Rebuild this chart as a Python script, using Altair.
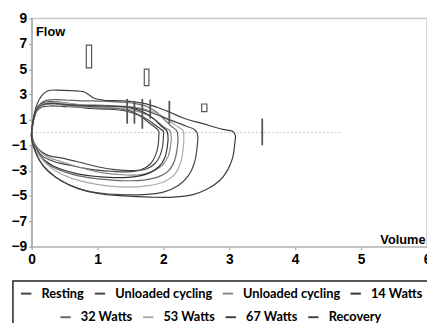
import altair as alt
import pandas as pd

# ---- loop data (volume, flow) ----
resting_v = [0, 0.03, 0.08, 0.15, 0.3, 0.5, 0.7, 0.9, 1.1, 1.3, 1.5, 1.7, 1.85, 1.95, 2.0,
             2.0, 1.99, 1.95, 1.88, 1.75, 1.55, 1.3, 1.0, 0.7, 0.45, 0.25, 0.1, 0.03, 0]
resting_f = [0, 1.0, 1.7, 2.0, 2.1, 2.05, 2.0, 1.9, 1.85, 1.8, 1.6, 1.2, 0.7, 0.3, 0.1,
             -0.3, -1.0, -1.8, -2.4, -2.85, -3.0, -2.95, -2.7, -2.3, -2.0, -1.8, -1.3, -0.7, 0]

unl1_v = [0, 0.03, 0.08, 0.15, 0.3, 0.5, 0.7, 0.9, 1.1, 1.3, 1.5, 1.65, 1.8, 1.9, 1.93,
          1.93, 1.92, 1.88, 1.8, 1.65, 1.45, 1.2, 0.9, 0.6, 0.35, 0.15, 0.05, 0, 0]
unl1_f = [0, 1.1, 1.8, 2.2, 2.3, 2.2, 2.1, 2.05, 1.95, 1.9, 1.7, 1.3, 0.7, 0.3, 0.1,
          -0.3, -1.0, -1.8, -2.5, -2.95, -3.1, -3.05, -2.9, -2.6, -2.3, -1.8, -1.0, -0.3, 0]

unl2_v = [0, 0.04, 0.1, 0.2, 0.35, 0.55, 0.75, 0.95, 1.15, 1.35, 1.55, 1.75, 1.9, 2.02, 2.1,
          2.12, 2.11, 2.07, 1.98, 1.82, 1.6, 1.3, 1.0, 0.7, 0.45, 0.2, 0.06, 0, 0]
unl2_f = [0, 1.2, 1.9, 2.2, 2.25, 2.1, 2.0, 2.0, 1.95, 1.9, 1.75, 1.4, 0.9, 0.4, 0.15,
          -0.3, -1.0, -1.9, -2.6, -3.1, -3.35, -3.3, -3.1, -2.7, -2.3, -1.8, -1.0, -0.3, 0]

w14_v = [0, 0.03, 0.08, 0.15, 0.3, 0.5, 0.7, 0.9, 1.1, 1.3, 1.5, 1.7, 1.85, 1.97, 2.05,
         2.07, 2.06, 2.02, 1.93, 1.78, 1.55, 1.25, 0.95, 0.65, 0.4, 0.2, 0.06, 0, 0]
w14_f = [0, 1.1, 1.9, 2.3, 2.45, 2.35, 2.2, 2.15, 2.1, 2.05, 1.95, 1.6, 1.1, 0.5, 0.15,
         -0.3, -1.1, -2.0, -2.7, -3.2, -3.5, -3.55, -3.45, -3.2, -2.8, -2.2, -1.3, -0.4, 0]

w32_v = [0, 0.04, 0.1, 0.2, 0.35, 0.55, 0.75, 0.95, 1.15, 1.35, 1.55, 1.75, 1.9, 2.02, 2.12, 2.2,
         2.22, 2.21, 2.17, 2.08, 1.92, 1.7, 1.4, 1.1, 0.8, 0.5, 0.25, 0.08, 0, 0]
w32_f = [0, 1.3, 2.1, 2.5, 2.6, 2.55, 2.5, 2.5, 2.45, 2.4, 2.3, 2.05, 1.6, 1.0, 0.5, 0.15,
         -0.3, -1.2, -2.2, -3.0, -3.5, -3.75, -3.8, -3.7, -3.5, -3.1, -2.5, -1.5, -0.4, 0]

w53_v = [0, 0.04, 0.1, 0.2, 0.35, 0.55, 0.75, 0.95, 1.15, 1.35, 1.55, 1.75, 1.95, 2.1, 2.22, 2.3,
         2.31, 2.3, 2.26, 2.17, 2.0, 1.75, 1.45, 1.15, 0.85, 0.55, 0.3, 0.1, 0, 0]
w53_f = [0, 1.2, 2.0, 2.3, 2.4, 2.3, 2.2, 2.2, 2.15, 2.1, 2.0, 1.8, 1.4, 0.9, 0.45, 0.15,
         -0.3, -1.3, -2.4, -3.3, -3.9, -4.2, -4.3, -4.2, -3.95, -3.5, -2.8, -1.7, -0.5, 0]

w67_v = [0, 0.03, 0.08, 0.15, 0.25, 0.4, 0.6, 0.8, 0.95, 1.1, 1.4, 1.7, 1.9, 2.1, 2.3, 2.6, 2.9, 3.05,
         3.09, 3.08, 3.05, 2.97, 2.85, 2.65, 2.45, 2.15, 1.8, 1.4, 1.0, 0.7, 0.45, 0.25, 0.12, 0.04, 0, 0]
w67_f = [0, 1.2, 2.2, 2.9, 3.3, 3.35, 3.3, 3.2, 2.7, 2.55, 2.5, 2.3, 2.0, 1.6, 1.15, 0.7, 0.25, 0.1,
         -0.2, -1.0, -2.0, -3.0, -3.8, -4.5, -4.9, -5.1, -5.1, -5.0, -4.8, -4.4, -3.8, -3.0, -2.2, -1.2, -0.4, 0]

rec_v = [0, 0.04, 0.1, 0.2, 0.35, 0.55, 0.75, 0.95, 1.15, 1.35, 1.55, 1.75, 1.95, 2.15, 2.35, 2.48,
         2.52, 2.51, 2.47, 2.38, 2.22, 2.0, 1.7, 1.35, 1.0, 0.7, 0.45, 0.22, 0.07, 0, 0]
rec_f = [0, 1.2, 2.0, 2.25, 2.3, 2.2, 2.15, 2.1, 2.1, 2.05, 1.95, 1.7, 1.3, 0.9, 0.5, 0.2,
         -0.2, -1.2, -2.4, -3.4, -4.2, -4.7, -4.9, -4.9, -4.75, -4.4, -3.8, -2.9, -1.7, -0.5, 0]

series_names = ["Resting", "Unloaded cycling", "Unloaded cycling ", "14 Watts",
                "32 Watts", "53 Watts", "67 Watts", "Recovery"]
series_colors = ["#444444", "#444444", "#8a8a8a", "#333333",
                 "#666666", "#ababab", "#3e3e3e", "#444444"]
series_data = [(resting_v, resting_f), (unl1_v, unl1_f), (unl2_v, unl2_f), (w14_v, w14_f),
               (w32_v, w32_f), (w53_v, w53_f), (w67_v, w67_f), (rec_v, rec_f)]

# markers
tick_v = [1.45, 1.56, 1.68, 1.80, 2.09, 3.50]
tick_lo = [0.7, 0.7, 0.3, 1.1, 0.7, -1.0]
tick_hi = [2.65, 2.5, 2.65, 2.6, 2.5, 1.1]
box_v0 = [0.83, 1.71, 2.58]
box_v1 = [0.91, 1.78, 2.66]
box_lo = [5.1, 3.7, 1.65]
box_hi = [6.9, 5.0, 2.25]
zero_v = [0, 4.7]
zero_f = [0, 0]

y_ticks = [-9, -7, -5, -3, -1, 1, 3, 5, 7, 9]
x_ticks = [0, 1, 2, 3, 4, 5, 6]

rows = []
for k, (name, (vs, fs)) in enumerate(zip(series_names, series_data)):
    for i, (v, f) in enumerate(zip(vs, fs)):
        rows.append({"series": name, "idx": i, "v": v, "f": f, "grp": "A" if k < 4 else "B"})
df = pd.DataFrame(rows)
df_a = df[df.grp == "A"]
df_b = df[df.grp == "B"]

x_scale = alt.Scale(domain=[0, 6], nice=False)
y_scale = alt.Scale(domain=[-9, 9], nice=False)

x_axis = alt.Axis(values=x_ticks, title="Volume", titleX=400, titleY=-3, titleAlign="right",
                  titleBaseline="alphabetic", titleFont="Liberation Sans", titleFontSize=13,
                  titleFontWeight="bold", titleColor="black", labelFont="Liberation Sans",
                  labelFontSize=14, labelFontWeight="bold", labelColor="black", labelFlush=False,
                  tickSize=3, tickColor="#999", domainColor="#bbb", domainWidth=1.5,
                  grid=False, labelPadding=3)
y_axis = alt.Axis(values=y_ticks, title="Flow", titleAngle=0, titleX=4, titleY=17,
                  titleAlign="left", titleBaseline="alphabetic", titleFont="Liberation Sans",
                  titleFontSize=13, titleFontWeight="bold", titleColor="black",
                  labelFont="Liberation Sans", labelFontSize=14, labelFontWeight="bold",
                  labelColor="black", labelFlush=False, tickSize=3, tickColor="#999",
                  domainColor="#aaa", domainWidth=1.5, grid=False, labelPadding=2)


def leg(lx, ly):
    return alt.Legend(orient="none", legendX=lx, legendY=ly, direction="horizontal", title=None,
                      symbolType="stroke", symbolSize=110, symbolStrokeWidth=2,
                      labelFont="Lato", labelFontSize=13, labelFontWeight="bold",
                      labelColor="black", columnPadding=6, labelOffset=9, padding=0)


lines_a = alt.Chart(df_a).mark_line(strokeWidth=1.2, interpolate="catmull-rom").encode(
    x=alt.X("v:Q", scale=x_scale, axis=x_axis),
    y=alt.Y("f:Q", scale=y_scale, axis=y_axis),
    color=alt.Color("series:N", scale=alt.Scale(domain=series_names[:4], range=series_colors[:4]),
                    legend=leg(-12, 273)),
    detail="series:N",
    order=alt.Order("idx:Q"),
)
lines_b = alt.Chart(df_b).mark_line(strokeWidth=1.2, interpolate="catmull-rom").encode(
    x=alt.X("v:Q", scale=x_scale, axis=x_axis),
    y=alt.Y("f:Q", scale=y_scale, axis=y_axis),
    color=alt.Color("series:N", scale=alt.Scale(domain=series_names[4:], range=series_colors[4:]),
                    legend=leg(28, 297)),
    detail="series:N",
    order=alt.Order("idx:Q"),
)

zero = alt.Chart(pd.DataFrame({"v": zero_v, "f": zero_f})).mark_line(
    color="#c4c4c4", strokeWidth=1, strokeDash=[2, 2]).encode(
    x=alt.X("v:Q", scale=x_scale, axis=x_axis),
    y=alt.Y("f:Q", scale=y_scale, axis=y_axis),
)

ticks = alt.Chart(pd.DataFrame({"v": tick_v, "f": tick_lo, "f2": tick_hi})).mark_rule(
    color="#555555", strokeWidth=1.8).encode(
    x=alt.X("v:Q", scale=x_scale, axis=x_axis),
    y=alt.Y("f:Q", scale=y_scale, axis=y_axis),
    y2="f2:Q",
)

boxes = alt.Chart(pd.DataFrame({"v": box_v0, "v2": box_v1, "f": box_lo, "f2": box_hi})).mark_rect(
    fillOpacity=0, stroke="#555555", strokeWidth=1.2).encode(
    x=alt.X("v:Q", scale=x_scale, axis=x_axis),
    x2="v2:Q",
    y=alt.Y("f:Q", scale=y_scale, axis=y_axis),
    y2="f2:Q",
)

frame = alt.Chart(pd.DataFrame({"a": [0]})).mark_rect(
    fillOpacity=0, stroke="#222", strokeWidth=1.5).encode(
    x=alt.value(-19), x2=alt.value(460), y=alt.value(267), y2=alt.value(360),
)

chart = alt.layer(zero, lines_a, lines_b, ticks, boxes, frame).resolve_scale(
    color="independent"
).properties(
    width=402, height=232,
    autosize=alt.AutoSizeParams(type="none"),
    padding={"left": 24, "top": 8, "right": 0, "bottom": 75},
    background="white",
).configure_view(stroke="#c8c8c8", strokeWidth=1.5)

chart.save("out.html", embed_options={"renderer": "svg", "actions": False})
